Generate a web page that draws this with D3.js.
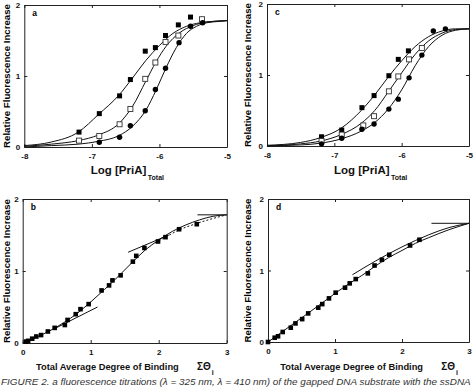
<!DOCTYPE html>
<html><head><meta charset="utf-8">
<script src="https://cdn.jsdelivr.net/npm/d3@7"></script>
<style>body{margin:0;background:#fff} svg{display:block}</style>
</head><body><svg id="chart" width="474" height="388"></svg>
<script>
// ---------- Panel a (log titrations) ----------
const aFilledSq = [[-7.19,0.21],[-6.89,0.47],[-6.59,0.72],[-6.43,0.95],[-6.21,1.35],[-6.06,1.40],[-5.91,1.57],[-5.72,1.72],[-5.54,1.83]];
const aOpenSq   = [[-7.19,0.09],[-6.89,0.155],[-6.59,0.32],[-6.43,0.535],[-6.21,0.96],[-6.06,1.19],[-5.91,1.48],[-5.72,1.57],[-5.37,1.80]];
const aCircle   = [[-6.89,0.066],[-6.59,0.137],[-6.43,0.30],[-6.21,0.51],[-6.06,0.81],[-5.91,1.11],[-5.71,1.47],[-5.54,1.70],[-5.36,1.75]];
const aFit1 = [[-8,0.02],[-7.6,0.07],[-7.2,0.21],[-6.9,0.46],[-6.6,0.73],[-6.4,0.97],[-6.2,1.22],[-6.0,1.43],[-5.8,1.60],[-5.6,1.70],[-5.4,1.75],[-5.2,1.77],[-5,1.78]];
const aFit2 = [[-8,0.01],[-7.6,0.04],[-7.2,0.09],[-6.9,0.17],[-6.6,0.33],[-6.4,0.57],[-6.2,0.93],[-6.05,1.20],[-5.9,1.42],[-5.7,1.61],[-5.5,1.71],[-5.3,1.76],[-5,1.78]];
const aFit3 = [[-8,0.0],[-7.6,0.02],[-7.2,0.04],[-6.9,0.08],[-6.6,0.16],[-6.4,0.29],[-6.2,0.52],[-6.05,0.80],[-5.9,1.12],[-5.75,1.40],[-5.6,1.60],[-5.45,1.70],[-5.3,1.75],[-5.1,1.77],[-5,1.78]];

// ---------- Panel c ----------
const cFilledSq = [[-7.19,0.13],[-6.89,0.225],[-6.59,0.54],[-6.41,0.71],[-6.19,0.99],[-6.05,1.22],[-5.9,1.34]];
const cOpenSq   = [[-7.19,0.07],[-6.89,0.16],[-6.57,0.29],[-6.41,0.42],[-6.19,0.77],[-6.05,0.98],[-5.89,1.22],[-5.70,1.38]];
const cCircle   = [[-7.19,0.03],[-6.89,0.11],[-6.59,0.235],[-6.41,0.31],[-6.19,0.52],[-6.05,0.66],[-5.89,0.96],[-5.70,1.28],[-5.53,1.62],[-5.35,1.65]];
const cFit1 = [[-8,0.01],[-7.5,0.05],[-7.2,0.12],[-6.9,0.25],[-6.6,0.50],[-6.4,0.72],[-6.2,0.97],[-6.0,1.20],[-5.8,1.40],[-5.6,1.54],[-5.4,1.62],[-5.2,1.65],[-5,1.65]];
const cFit2 = [[-8,0.005],[-7.5,0.03],[-7.2,0.07],[-6.9,0.16],[-6.6,0.32],[-6.4,0.50],[-6.2,0.76],[-6.0,1.03],[-5.8,1.29],[-5.6,1.48],[-5.4,1.59],[-5.2,1.64],[-5,1.65]];
const cFit3 = [[-8,0.003],[-7.5,0.015],[-7.2,0.04],[-6.9,0.10],[-6.6,0.21],[-6.4,0.33],[-6.2,0.52],[-6.0,0.79],[-5.8,1.13],[-5.6,1.40],[-5.4,1.56],[-5.2,1.63],[-5,1.65]];

// ---------- Panel b ----------
const bPoints = [[0.05,0.02],[0.08,0.03],[0.14,0.06],[0.20,0.09],[0.27,0.11],[0.37,0.16],[0.47,0.21],[0.62,0.25],[0.66,0.32],[0.78,0.40],[0.85,0.47],[0.97,0.54],[1.16,0.73],[1.27,0.80],[1.32,0.87],[1.44,0.94],[1.62,1.13],[1.67,1.21],[1.79,1.32],[1.99,1.41],[2.10,1.47],[2.30,1.58],[2.56,1.65]];
const bFit = [[0,0],[0.2,0.08],[0.4,0.17],[0.6,0.28],[0.8,0.41],[1.0,0.57],[1.2,0.74],[1.4,0.92],[1.6,1.11],[1.8,1.29],[2.0,1.43],[2.2,1.55],[2.4,1.64],[2.6,1.71],[2.8,1.76],[3.0,1.78]];
const bDashed = [[1.95,1.39],[2.1,1.47],[2.3,1.57],[2.56,1.66],[2.8,1.73],[3.0,1.78]];
const bTangentLow = [[0.45,0.19],[1.1,0.50]];
const bTangentHigh = [[1.55,1.26],[2.15,1.50]];
const bPlateau = [[2.57,1.78],[3.0,1.78]];

// ---------- Panel d ----------
const dPoints = [[0.0,0.0],[0.10,0.06],[0.15,0.08],[0.22,0.14],[0.34,0.20],[0.41,0.26],[0.51,0.32],[0.60,0.40],[0.75,0.48],[0.81,0.53],[0.91,0.61],[1.01,0.69],[1.15,0.76],[1.22,0.82],[1.31,0.88],[1.49,0.96],[1.59,1.07],[1.70,1.15],[1.81,1.22],[2.12,1.35],[2.26,1.43]];
const dFit = [[0,0],[0.4,0.27],[0.8,0.54],[1.0,0.68],[1.2,0.81],[1.4,0.93],[1.6,1.06],[1.8,1.18],[2.0,1.28],[2.2,1.38],[2.4,1.46],[2.7,1.57],[3.0,1.66]];
const dUpper = [[1.26,0.94],[1.6,1.13],[2.0,1.33],[2.4,1.50],[2.7,1.60],[3.0,1.66]];
const dPlateau = [[2.44,1.66],[3.0,1.66]];

// ---------- tick labels ----------
const logTicks = [-8,-7,-6,-5];
const thetaTicks = [0,1,2,3];
const yTicks = [0,1,2];

const yTitle = "Relative Fluorescence Increase";
const caption = "FIGURE 2. a fluorescence titrations (\u03bb      = 325 nm, \u03bb      = 410 nm) of the gapped DNA substrate with the ssDNA";

const svg = d3.select("#chart");
const FONT = "'Liberation Sans', Arial, Helvetica, sans-serif";

// fit a text element to a target width by adjusting its font size
function fitWidth(sel, target) {
  const node = sel.node();
  const fs = parseFloat(sel.attr("font-size"));
  const w = node.getComputedTextLength();
  if (w > 0) sel.attr("font-size", (fs * target / w).toFixed(2));
}

function panel(o) {
  const x = d3.scaleLinear().domain(o.xd).range([o.l, o.r]);
  const y = d3.scaleLinear().domain([0, 2]).range([o.b, o.t]);
  const g = svg.append("g");
  const fmt = d => String(d);
  const styleAxis = sel => {
    sel.selectAll("path.domain").attr("stroke", "#222").attr("stroke-width", 1);
    sel.selectAll(".tick line").attr("stroke", "#222");
    sel.selectAll("text").attr("font-family", FONT).attr("font-size", 8).attr("font-weight", "bold").attr("fill", "#111");
  };
  g.append("g").attr("transform", `translate(0,${o.b})`)
    .call(d3.axisBottom(x).tickValues(o.xt).tickFormat(fmt).tickSizeInner(-3).tickSizeOuter(0).tickPadding(6)).call(styleAxis);
  g.append("g").attr("transform", `translate(0,${o.t})`)
    .call(d3.axisTop(x).tickValues(o.xt).tickFormat("").tickSizeInner(-3).tickSizeOuter(0)).call(styleAxis);
  g.append("g").attr("transform", `translate(${o.l},0)`)
    .call(d3.axisLeft(y).tickValues(yTicks).tickFormat(fmt).tickSizeInner(-3).tickSizeOuter(0).tickPadding(4)).call(styleAxis);
  g.append("g").attr("transform", `translate(${o.r},0)`)
    .call(d3.axisRight(y).tickValues(yTicks).tickFormat("").tickSizeInner(-3).tickSizeOuter(0)).call(styleAxis);

  const line = d3.line().x(d => x(d[0])).y(d => y(d[1])).curve(d3.curveMonotoneX);
  const straight = d3.line().x(d => x(d[0])).y(d => y(d[1]));
  (o.curves || []).forEach(c => {
    g.append("path").datum(c.data).attr("d", c.straight ? straight : line)
      .attr("fill", "none").attr("stroke", "#111").attr("stroke-width", 1)
      .attr("stroke-dasharray", c.dash || null);
  });
  (o.series || []).forEach(s => {
    if (s.shape === "circle") {
      g.selectAll(null).data(s.data).enter().append("circle")
        .attr("cx", d => x(d[0])).attr("cy", d => y(d[1])).attr("r", 2.7).attr("fill", "#000");
    } else {
      const sz = s.size || 5;
      g.selectAll(null).data(s.data).enter().append("rect")
        .attr("x", d => x(d[0]) - sz / 2).attr("y", d => y(d[1]) - sz / 2)
        .attr("width", sz).attr("height", sz)
        .attr("fill", s.shape === "open" ? "#fff" : "#000")
        .attr("stroke", s.shape === "open" ? "#333" : "none").attr("stroke-width", 0.9);
    }
  });
  // panel letter
  g.append("text").attr("x", o.l + 8).attr("y", o.t + 11).text(o.label)
    .attr("font-family", FONT).attr("font-size", 8.5).attr("font-weight", "bold");
  // y title
  const cy = (o.t + o.b) / 2;
  const yt = g.append("text").attr("transform", `translate(${o.ytx},${cy}) rotate(-90)`)
    .attr("text-anchor", "middle").attr("dominant-baseline", "central")
    .attr("font-family", FONT).attr("font-size", 10).attr("font-weight", "bold").text(yTitle);
  fitWidth(yt, 144);
  // x title
  if (o.log) {
    const xt = g.append("text").attr("font-family", FONT).attr("font-weight", "bold").attr("fill", "#111")
      .attr("x", o.xtx).attr("y", o.xty).attr("font-size", 11.5);
    xt.append("tspan").text("Log [PriA]");
    xt.append("tspan").attr("font-size", 7).attr("dy", 5.5).attr("dx", 1.5).text("Total");
  } else {
    const xt = g.append("text").attr("font-family", FONT).attr("font-weight", "bold").attr("fill", "#111")
      .attr("x", o.xtx).attr("y", o.xty).attr("font-size", 10).text("Total Average Degree of Binding");
    fitWidth(xt, 143);
    const sym = g.append("text").attr("font-family", FONT).attr("font-weight", "bold").attr("fill", "#111")
      .attr("x", o.xtx + 161).attr("y", o.xty).attr("font-size", 10);
    sym.append("tspan").text("\u03a3\u0398");
    sym.append("tspan").attr("font-size", 7).attr("dy", 5).attr("dx", 1).text("i");
  }
}

panel({xd: [-8, -5], l: 24.3, r: 227, t: 5, b: 147, xt: logTicks, label: "a", ytx: 6.5, log: true, xtx: 90.7, xty: 174,
  curves: [{data: aFit1}, {data: aFit2}, {data: aFit3}],
  series: [{shape: "filled", data: aFilledSq}, {shape: "open", data: aOpenSq}, {shape: "circle", data: aCircle}]});
panel({xd: [-8, -5], l: 267, r: 469, t: 4, b: 146, xt: logTicks, label: "c", ytx: 247.5, log: true, xtx: 334, xty: 174,
  curves: [{data: cFit1}, {data: cFit2}, {data: cFit3}],
  series: [{shape: "filled", data: cFilledSq}, {shape: "open", data: cOpenSq}, {shape: "circle", data: cCircle}]});
panel({xd: [0, 3], l: 22.7, r: 226.7, t: 199, b: 343, xt: thetaTicks, label: "b", ytx: 6.5, log: false, xtx: 36, xty: 370,
  curves: [{data: bFit}, {data: bDashed, dash: "2,2"}, {data: bTangentLow, straight: true}, {data: bTangentHigh, straight: true}, {data: bPlateau, straight: true}],
  series: [{shape: "filled", data: bPoints, size: 4.6}]});
panel({xd: [0, 3], l: 268, r: 469, t: 199, b: 342, xt: thetaTicks, label: "d", ytx: 247.5, log: false, xtx: 280.3, xty: 370,
  curves: [{data: dFit}, {data: dUpper}, {data: dPlateau, straight: true}],
  series: [{shape: "filled", data: dPoints, size: 4.6}]});

const cap = svg.append("text").attr("x", 1).attr("y", 385).attr("font-family", FONT).attr("font-size", 10)
  .attr("fill", "#333").attr("font-style", "italic").text(caption);
fitWidth(cap, 470);
</script></body></html>
